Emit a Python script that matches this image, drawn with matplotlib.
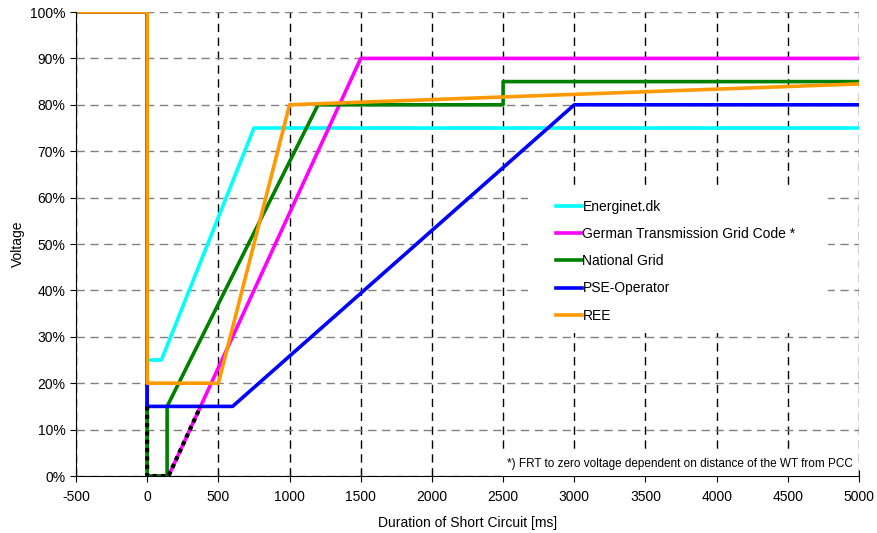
import matplotlib
matplotlib.use("Agg")
import matplotlib.pyplot as plt
from matplotlib.patches import Rectangle
from matplotlib.ticker import MultipleLocator, FuncFormatter

plt.rcParams['font.family'] = ['Liberation Sans', 'DejaVu Sans']
plt.rcParams['axes.unicode_minus'] = False

# series data: time [ms], voltage [%]
energinet_t = [-500, 0, 0, 100, 750, 5000]
energinet_v = [100, 100, 25, 25, 75, 75]

german_t = [-500, 0, 0, 150, 1500, 5000]
german_v = [100, 100, 0, 0, 90, 90]

natgrid_t = [-500, 0, 0, 140, 140, 1200, 2500, 2500, 5000]
natgrid_v = [100, 100, 0, 0, 15, 80, 80, 85, 85]

pse_t = [-500, 0, 0, 600, 3000, 5000]
pse_v = [100, 100, 15, 15, 80, 80]

ree_t = [-500, 0, 0, 500, 1000, 5000]
ree_v = [100, 100, 20, 20, 80, 84.5]

# zero voltage FRT (dotted)
zero_t = [0, 0, 150, 375]
zero_v = [15, 0, 0, 15]

fig = plt.figure(figsize=(8.78, 5.33), dpi=100)
ax = fig.add_axes([76/878, 1 - 476/533, (859-76)/878, (476-12)/533])

lw = 2.6
ax.plot(energinet_t, energinet_v, color='#00FFFF', lw=lw, label='Energinet.dk')
ax.plot(german_t, german_v, color='#FF00FF', lw=lw, label='German Transmission Grid Code *')
ax.plot(natgrid_t, natgrid_v, color='#008000', lw=lw, label='National Grid')
ax.plot(pse_t, pse_v, color='#0000FF', lw=lw, label='PSE-Operator')
ax.plot(ree_t, ree_v, color='#FF9900', lw=lw, label='REE')
ax.plot(zero_t, zero_v, color='black', lw=3, linestyle=(0, (1, 1)))

ax.set_xlim(-500, 5000)
ax.set_ylim(0, 100)
ax.xaxis.set_major_locator(MultipleLocator(500))
ax.yaxis.set_major_locator(MultipleLocator(10))
ax.yaxis.set_major_formatter(FuncFormatter(lambda v, p: f'{v:.0f}%'))

ax.spines['top'].set_visible(False)
ax.spines['right'].set_visible(False)
ax.tick_params(axis='x', direction='inout', length=8, labelsize=10, pad=6)
ax.tick_params(axis='y', direction='out', length=4, labelsize=10)

ax.yaxis.grid(True, color='#808080', linestyle=(0, (6, 4)), lw=1)
ax.xaxis.grid(True, color='black', linestyle=(0, (6, 4)), lw=1)
ax.set_axisbelow(True)

ax.set_xlabel('Duration of Short Circuit [ms]', fontsize=10, labelpad=9)
ax.set_ylabel('Voltage', fontsize=10)

# white area behind the legend (hides the grid there)
ax.add_patch(Rectangle((0.577, 0.308), 0.383, 0.319, transform=ax.transAxes,
                       facecolor='white', edgecolor='none', zorder=1.5))
ax.legend(loc='upper left', bbox_to_anchor=(0.606, 0.607), frameon=False,
          fontsize=10, handlelength=1.85, handletextpad=0.05, labelspacing=0.95,
          borderaxespad=0)

ax.text(0.992, 0.013, '*) FRT to zero voltage dependent on distance of the WT from PCC',
        transform=ax.transAxes, ha='right', va='bottom', fontsize=8.5, zorder=3,
        bbox=dict(facecolor='white', edgecolor='none', pad=4))

fig.savefig('out.png', dpi=100)
